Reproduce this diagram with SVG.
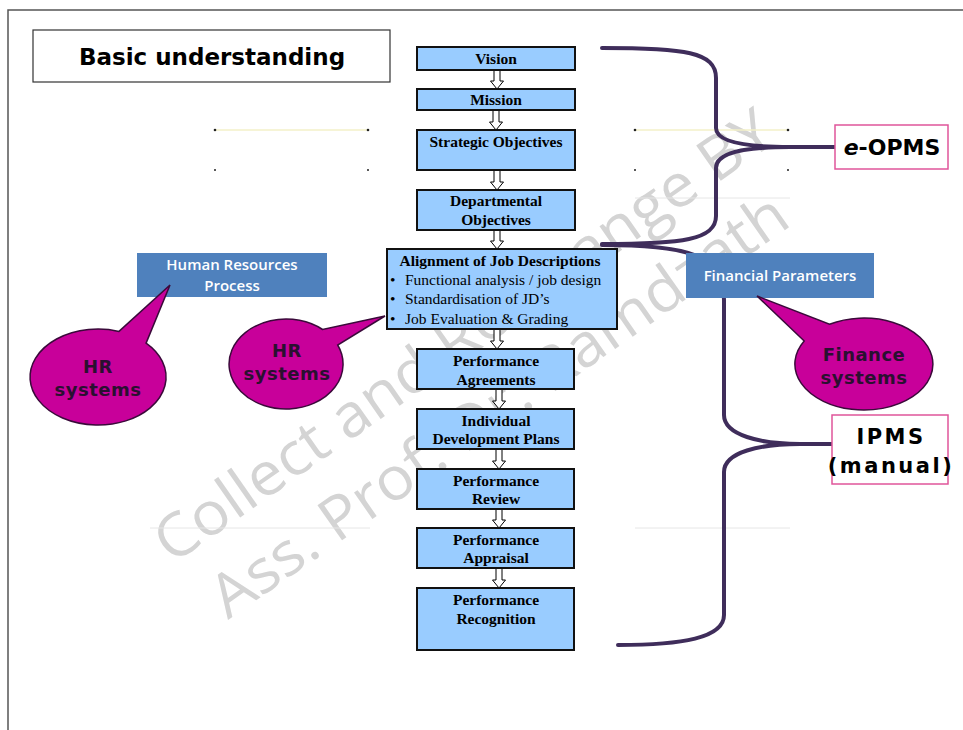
<svg xmlns="http://www.w3.org/2000/svg" width="963" height="730" viewBox="0 0 963 730">
<style>
.frame{fill:none;stroke:#555;stroke-width:1.5}
.box{fill:#99CCFF;stroke:#111;stroke-width:2}
.bt{font-family:"Liberation Serif",serif;font-weight:bold;font-size:15.5px;fill:#000;text-anchor:middle}
.bl{font-family:"Liberation Serif",serif;font-size:15.5px;fill:#000}
.blue{fill:#4F81BD}
.wt{font-family:"Open Sans","Liberation Sans",sans-serif;font-weight:600;font-size:15px;fill:#fff;text-anchor:middle}
.call{fill:#C8009A;stroke:#3a0a3a;stroke-width:1.5}
.ct{font-family:"DejaVu Sans",sans-serif;font-weight:bold;font-size:18px;fill:#2a1030;text-anchor:middle;letter-spacing:0.5px}
.pink{fill:#fff;stroke:#E0559A;stroke-width:1.5}
.brace{fill:none;stroke:#3f2d5b;stroke-width:4;stroke-linecap:round}
.arr{fill:#fff;stroke:#000;stroke-width:1}
.wm{font-family:"Open Sans","Liberation Sans",sans-serif;font-size:60px;fill:#d4d4d4}
.faint{stroke:#e6e6e6;stroke-width:1}
.yl{stroke:#f3f0c8;stroke-width:1.5}
.dot{fill:#222}
</style>
<defs>
<path id="ar" d="M-3,-3 h6 v14 h3.5 l-6.5,8 l-6.5,-8 h3.5 z"/>
</defs>
<rect width="963" height="730" fill="#fff"/>
<path class="frame" d="M8,730 V10 H963"/>

<g id="watermark">
<text class="wm" transform="translate(172,565) rotate(-35)" textLength="740" lengthAdjust="spacingAndGlyphs">Collect and Rearrange BY</text>
<text class="wm" transform="translate(228,620) rotate(-35)" textLength="690" lengthAdjust="spacingAndGlyphs">Ass. Prof. Dr. Ramdzath</text>
</g>

<g id="guides">
<line class="yl" x1="215" y1="130" x2="368" y2="130"/>
<line class="yl" x1="635" y1="130" x2="788" y2="130"/>
<line class="faint" x1="635" y1="198" x2="790" y2="198"/>
<line class="faint" x1="635" y1="528" x2="790" y2="528"/>
<line class="faint" x1="150" y1="528" x2="370" y2="528"/>
<circle class="dot" cx="215" cy="130" r="1.3"/><circle class="dot" cx="368" cy="130" r="1.3"/>
<circle class="dot" cx="635" cy="130" r="1.3"/><circle class="dot" cx="788" cy="130" r="1.3"/>
<circle class="dot" cx="215" cy="170" r="1"/><circle class="dot" cx="368" cy="170" r="1"/>
<circle class="dot" cx="635" cy="170" r="1"/><circle class="dot" cx="788" cy="170" r="1"/>
</g>

<g id="title">
<rect x="33" y="30" width="357" height="52" fill="#fff" stroke="#333" stroke-width="1.2"/>
<text x="212" y="65" font-family="DejaVu Sans,sans-serif" font-weight="bold" font-size="23px" text-anchor="middle">Basic understanding</text>
</g>

<g id="connectors">
<path class="brace" d="M602,48 C685,48 716,52 716,78 L716,128 C716,141 742,147 790,147 L835,147 M790,147 C742,147 716,153 716,168 L716,216 C716,240 682,244 602,244"/>
<path class="brace" d="M602,245 C690,245 724,255 724,300 L724,415 C724,435 760,444 800,444 L832,444 M800,444 C760,444 724,452 724,472 L724,615 C724,638 682,645 618,645"/>
<use href="#ar" class="arr" x="497" y="70"/>
<use href="#ar" class="arr" x="496" y="111"/>
<use href="#ar" class="arr" x="497" y="171"/>
<use href="#ar" class="arr" x="497" y="230"/>
<use href="#ar" class="arr" x="497" y="330"/>
<use href="#ar" class="arr" x="499" y="390"/>
<use href="#ar" class="arr" x="499" y="450"/>
<use href="#ar" class="arr" x="499" y="509"/>
<use href="#ar" class="arr" x="499" y="569"/>
</g>

<g id="vision"><rect class="box" x="417" y="47" width="158" height="23"/><text class="bt" x="496" y="64">Vision</text></g>
<g id="mission"><rect class="box" x="417" y="89" width="158" height="21"/><text class="bt" x="496" y="105">Mission</text></g>
<g id="strategic"><rect class="box" x="417" y="130" width="158" height="40"/><text class="bt" x="496" y="147">Strategic Objectives</text></g>
<g id="departmental"><rect class="box" x="417" y="190" width="158" height="40"/><text class="bt" x="496" y="206">Departmental</text><text class="bt" x="496" y="225">Objectives</text></g>
<g id="alignment"><rect class="box" x="387" y="249" width="230" height="80"/>
<text class="bt" x="500" y="266">Alignment of Job Descriptions</text>
<text class="bl" x="390" y="285">•</text><text class="bl" x="405" y="285">Functional analysis / job design</text>
<text class="bl" x="390" y="304">•</text><text class="bl" x="405" y="304">Standardisation of JD’s</text>
<text class="bl" x="390" y="324">•</text><text class="bl" x="405" y="324">Job Evaluation &amp; Grading</text>
</g>
<g id="agreements"><rect class="box" x="417" y="349" width="157" height="40"/><text class="bt" x="496" y="366">Performance</text><text class="bt" x="496" y="385">Agreements</text></g>
<g id="idp"><rect class="box" x="417" y="409" width="157" height="40"/><text class="bt" x="496" y="426">Individual</text><text class="bt" x="496" y="444">Development Plans</text></g>
<g id="review"><rect class="box" x="417" y="469" width="157" height="40"/><text class="bt" x="496" y="486">Performance</text><text class="bt" x="496" y="504">Review</text></g>
<g id="appraisal"><rect class="box" x="417" y="528" width="157" height="40"/><text class="bt" x="496" y="545">Performance</text><text class="bt" x="496" y="563">Appraisal</text></g>
<g id="recognition"><rect class="box" x="417" y="588" width="157" height="62"/><text class="bt" x="496" y="605">Performance</text><text class="bt" x="496" y="624">Recognition</text></g>

<g id="hr-process"><rect class="blue" x="137" y="253" width="190" height="44"/><text class="wt" x="232" y="270">Human Resources</text><text class="wt" x="232" y="291">Process</text></g>
<g id="fin-params"><rect class="blue" x="686" y="253" width="188" height="45"/><text class="wt" x="780" y="281">Financial Parameters</text></g>

<g id="hr-systems-1"><path class="call" d="M146.1,343.1 A68,48 0 1 1 119,331.4 L170,285 Z"/><text class="ct" x="98" y="373">HR</text><text class="ct" x="98" y="396">systems</text></g>
<g id="hr-systems-2"><path class="call" d="M337.7,345 A57,45 0 1 1 322.6,329.5 L385,316 Z"/><text class="ct" x="287" y="357">HR</text><text class="ct" x="287" y="380">systems</text></g>
<g id="finance-systems"><path class="call" d="M829.5,324.2 A69,46 0 1 1 804.2,341 L757,296 Z"/><text class="ct" x="864" y="361">Finance</text><text class="ct" x="864" y="384">systems</text></g>

<g id="e-opms"><rect class="pink" x="835" y="125" width="113" height="44"/><text x="892" y="155" font-family="DejaVu Sans,sans-serif" font-weight="bold" font-size="22px" text-anchor="middle"><tspan font-style="italic">e</tspan>-OPMS</text></g>
<g id="ipms"><rect class="pink" x="832" y="415" width="116" height="69"/>
<text x="891" y="444" font-family="DejaVu Sans,sans-serif" font-weight="bold" font-size="21px" letter-spacing="2.5" text-anchor="middle">IPMS</text>
<text x="891" y="473" font-family="DejaVu Sans,sans-serif" font-weight="bold" font-size="21px" letter-spacing="2.5" text-anchor="middle">(manual)</text></g>
</svg>
